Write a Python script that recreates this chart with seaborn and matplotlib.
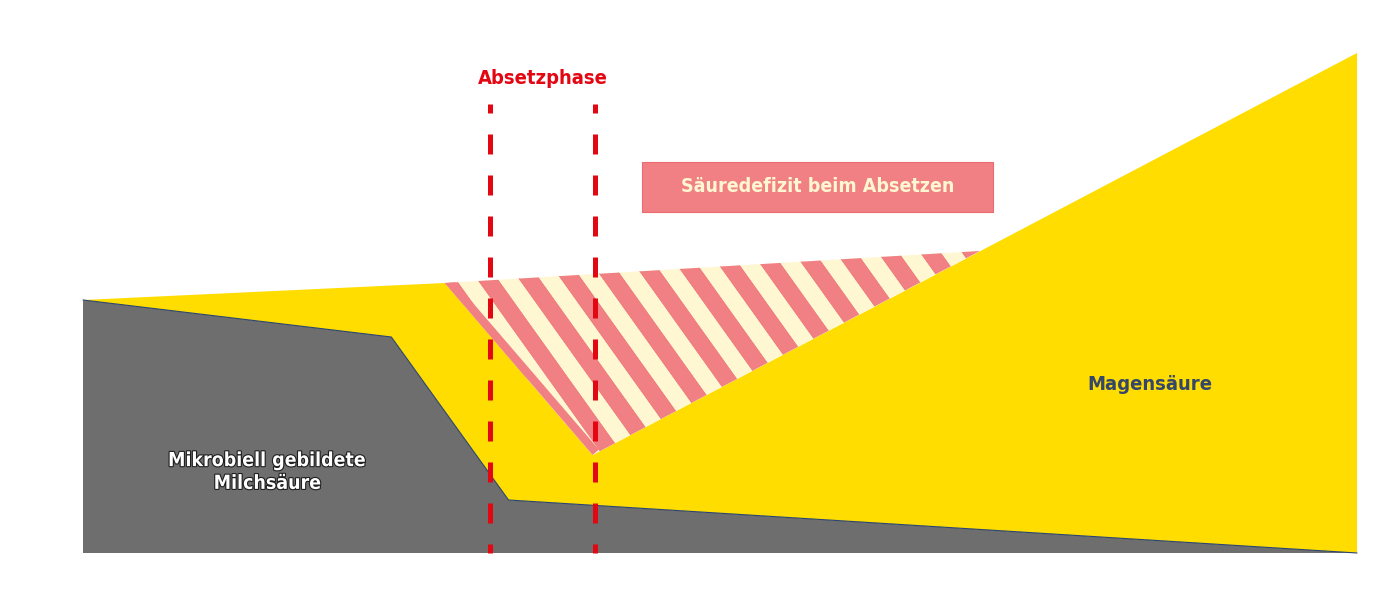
import numpy as np
import pandas as pd
import matplotlib
matplotlib.use("Agg")
import matplotlib.pyplot as plt
import matplotlib.patheffects as pe
from matplotlib.patches import Polygon, Rectangle
import seaborn as sns

# ======================================
# Data (x = time, y = acid amount, arbitrary units)
# ======================================

lactic_x = [0, 24.2, 33.4, 100]
lactic_y = [50.6, 43.2, 10.6, 0]

total_x = [0, 28.4, 40.0, 100]
total_y = [50.6, 54.0, 19.6, 100]

demand_x = [0, 28.4, 70.4]
demand_y = [50.6, 54.0, 60.4]

phase_x = [31.95, 40.2]
phase_top = 89.8

label_phase = "Absetzphase"
label_deficit = "Säuredefizit beim Absetzen"
label_lactic = "Mikrobiell gebildete\nMilchsäure"
label_gastric = "Magensäure"

# ======================================
# Style
# ======================================

YELLOW = "#FFDD00"
GREY = "#6E6E6E"
PINK = "#F08084"
CREAM = "#FFF7D1"
RED = "#E30613"
NAVY = "#34466A"

sns.set_theme(style="white")
plt.rcParams["font.family"] = ["DejaVu Sans"]
plt.rcParams["font.stretch"] = "condensed"

fig = plt.figure(figsize=(14, 6.01), dpi=100)
ax = fig.add_axes([0, 0, 1, 1])
xlim = (-6.515, 103.375)
ylim = (-9.6, 110.6)
ax.set_xlim(*xlim)
ax.set_ylim(*ylim)
ax.axis("off")

# pixels per data unit
sx = fig.dpi * fig.get_figwidth() / (xlim[1] - xlim[0])
sy = fig.dpi * fig.get_figheight() / (ylim[1] - ylim[0])

# ======================================
# Areas
# ======================================

# grey: microbial lactic acid
grey_pts = list(zip(lactic_x, lactic_y)) + [(0, 0)]
ax.add_patch(Polygon(grey_pts, closed=True, facecolor=GREY, edgecolor="none", zorder=2))

# yellow: gastric acid on top of lactic acid
yellow_pts = list(zip(total_x, total_y)) + list(zip(lactic_x[::-1], lactic_y[::-1]))
ax.add_patch(Polygon(yellow_pts, closed=True, facecolor=YELLOW, edgecolor="none", zorder=2))

sns.lineplot(x=lactic_x, y=lactic_y, ax=ax, color="#2A4470", linewidth=0.8,
             sort=False, zorder=3)

# deficit: between demand line and total acid
tri = [(demand_x[1], demand_y[1]), (demand_x[2], demand_y[2]), (total_x[2], total_y[2])]
deficit = Polygon(tri, closed=True, facecolor=CREAM, edgecolor="none", zorder=2)
ax.add_patch(deficit)

# diagonal stripes (steep "\"), clipped to the deficit area
k = 1.4        # stripe steepness in pixels (dy/dx)
period = 42    # horizontal period in px
width = 20     # pink width in px
c_start = 632 % period - period
ylo, yhi = min(p[1] for p in tri) - 5, max(p[1] for p in tri) + 5
for c in np.arange(c_start, sx * 110 + sy * 120, period):
    pts = [((c - sy * ylo / k) / sx, ylo), ((c - sy * yhi / k) / sx, yhi),
           ((c + width - sy * yhi / k) / sx, yhi), ((c + width - sy * ylo / k) / sx, ylo)]
    stripe = Polygon(pts, closed=True, facecolor=PINK, edgecolor="#EE6F76",
                     linewidth=0.5, zorder=2.5)
    ax.add_patch(stripe)
    stripe.set_clip_path(deficit)

# pink band along the left edge of the deficit
border, = ax.plot([tri[0][0], tri[2][0]], [tri[0][1], tri[2][1]], color=PINK,
                  linewidth=12, solid_capstyle="butt", zorder=2.6)
border.set_clip_path(deficit)

# ======================================
# Phase lines (dash 20 px, gap 21 px)
# ======================================

dash_px, gap_px = 20, 21
top_px = 553 - phase_top * sy
starts = np.arange(top_px - 11, 553, dash_px + gap_px)
seg_top = (553 - np.maximum(starts, top_px)) / sy
seg_bot = (553 - np.minimum(starts + dash_px, 553)) / sy
for px in phase_x:
    ax.vlines(np.full(len(starts), px), seg_bot, seg_top, color=RED,
              linewidth=3.6, zorder=4)

ax.text(np.mean(phase_x), 94.8, label_phase, color=RED, fontsize=14.5,
        fontweight="bold", ha="center", va="center", zorder=5)

# ======================================
# Labels
# ======================================

ax.add_patch(Rectangle((43.88, 68.2), 27.55, 10.0, facecolor=PINK,
                       edgecolor="#EC6A70", linewidth=0.8, zorder=4))
ax.text(57.65, 73.3, label_deficit, color=CREAM, fontsize=14,
        fontweight="bold", ha="center", va="center", zorder=5)

ax.text(14.5, 16.2, label_lactic, color="white", fontsize=14,
        fontweight="bold", ha="center", va="center", linespacing=1.25,
        zorder=5,
        path_effects=[pe.withStroke(linewidth=1.6, foreground="#1E1E1E")])

ax.text(83.75, 33.6, label_gastric, color=NAVY, fontsize=14.5,
        fontweight="bold", ha="center", va="center", zorder=5)

plt.savefig("out.png", dpi=100)
plt.close()
